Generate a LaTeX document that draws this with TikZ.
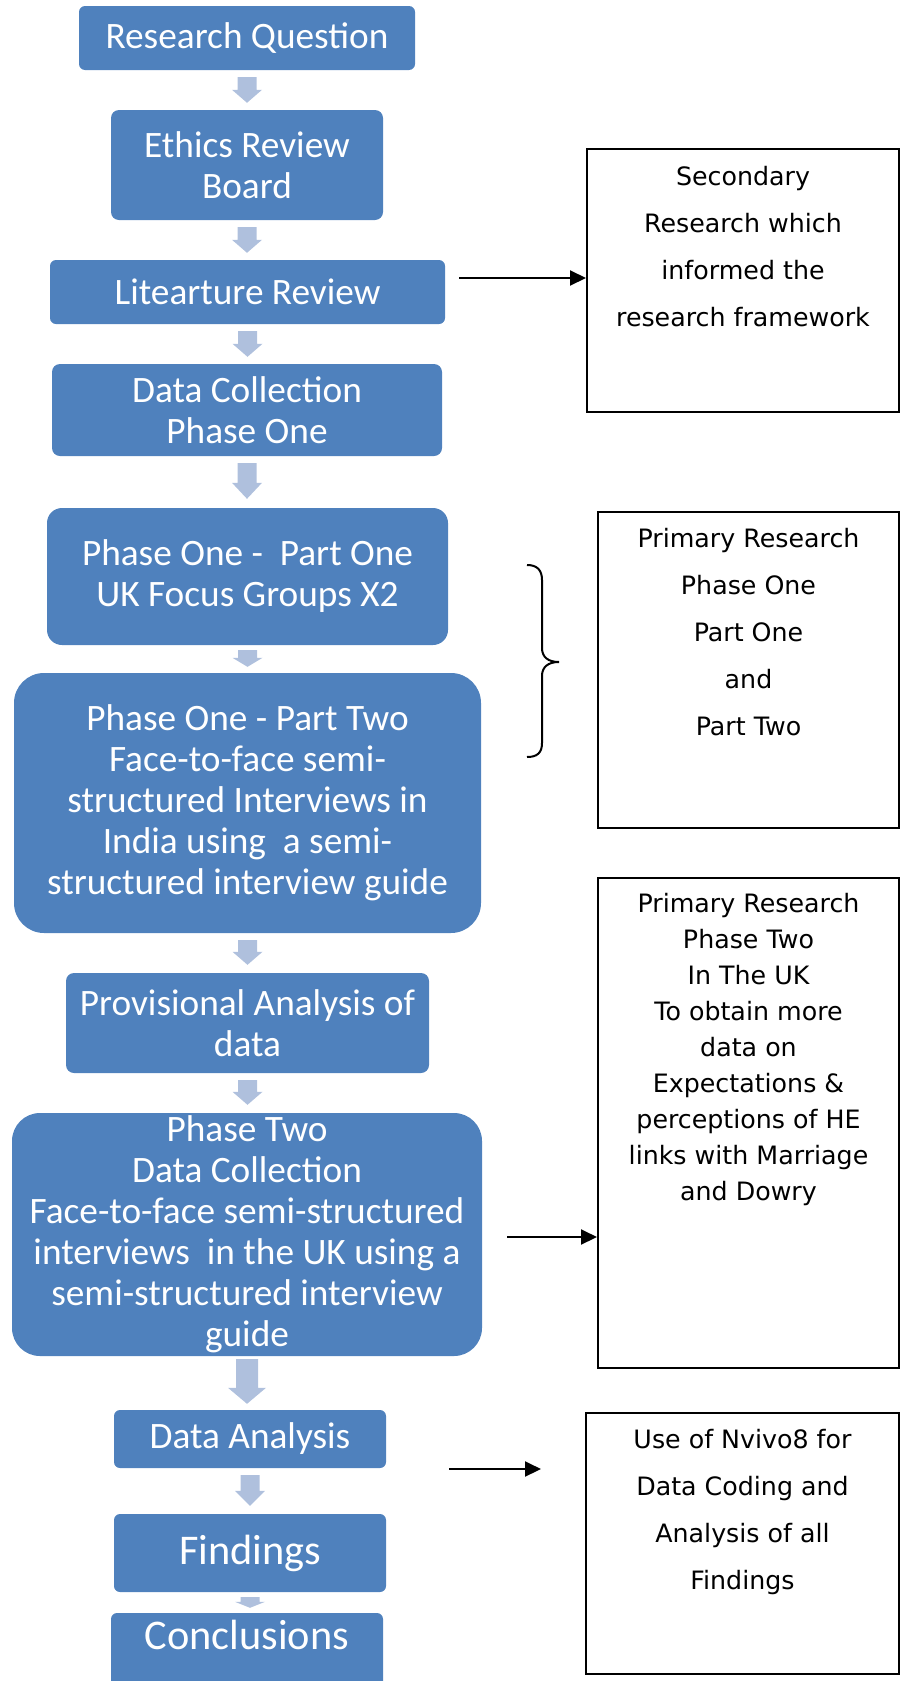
\documentclass[tikz,border=0pt]{standalone}
\usepackage{fontspec}
\setmainfont{Carlito}
\newfontfamily\rfont{DejaVu Sans}
\usetikzlibrary{calc,arrows.meta}
\definecolor{boxblue}{HTML}{4F81BD}
\definecolor{arrblue}{HTML}{AFC0DD}
\tikzset{
  bbox/.style={fill=boxblue, text=white, align=center, inner sep=0pt, rounded corners=6pt,
    font=\fontsize{37.3}{41}\selectfont},
  frame/.style={draw=black, line width=2pt, inner sep=0pt},
  rtext/.style={align=center, inner sep=0pt, anchor=north, font=\rfont\fontsize{25.3}{47}\selectfont},
  link/.style={draw=black, line width=2pt, -{Triangle[length=16pt,width=15pt]}},
}
\newcommand\blockarr[7]{%
  \fill[arrblue] let \p1=($(#1.south)+(0,#3)$), \p2=($(#2.north)+(0,-#4)$) in
   (\x1-#5pt,\y1) -- (\x1+#5pt,\y1) -- (\x1+#5pt,\y2+#7pt) -- (\x1+#6pt,\y2+#7pt)
   -- (\x1,\y2) -- (\x1-#6pt,\y2+#7pt) -- (\x1-#5pt,\y2+#7pt) -- cycle;}
\begin{document}
\begin{tikzpicture}[x=1pt,y=-1pt]
\useasboundingbox (0,0) rectangle (901,1681);
\clip (0,0) rectangle (901,1681);
% flow boxes
\node[bbox, minimum width=336pt, minimum height=64pt] (rq) at (247,38) {Research Question};
\node[bbox, minimum width=272pt, minimum height=110pt, rounded corners=8pt] (eth) at (247,165) {Ethics Review\\Board};
\node[bbox, minimum width=395pt, minimum height=64pt] (lit) at (247.5,292) {Litearture Review};
\node[bbox, minimum width=390pt, minimum height=92pt, rounded corners=8pt] (dc) at (247,410) {Data Collection\\Phase One};
\node[bbox, minimum width=401pt, minimum height=137pt, rounded corners=15pt] (p1) at (247.5,576.5) {Phase One - \ Part One\\UK Focus Groups X2};
\node[bbox, minimum width=467pt, minimum height=260pt, rounded corners=30pt] (p2) at (247.5,803) {Phase One - Part Two\\Face-to-face semi-\\structured Interviews in\\India using \ a semi-\\structured interview guide};
\node[bbox, minimum width=363pt, minimum height=100pt, rounded corners=8pt] (prov) at (247.5,1023) {Provisional Analysis of\\data};
\node[bbox, minimum width=470pt, minimum height=243pt, rounded corners=28pt] (ph2) at (247,1234.5) {Phase Two\\Data Collection\\Face-to-face semi-structured\\interviews \ in the UK using a\\semi-structured interview\\guide};
\node[bbox, minimum width=272pt, minimum height=58pt] (da) at (250,1439) {Data Analysis};
\node[bbox, minimum width=272pt, minimum height=78pt, font=\fontsize{42.3}{46}\selectfont] (fi) at (250,1553) {Findings};
\node[bbox, minimum width=272pt, minimum height=87pt, font=\fontsize{42.3}{46}\selectfont, text height=27pt, text depth=42pt] (co) at (247,1656.5) {Conclusions};
% block arrows
\blockarr{rq}{eth}{7}{7}{9.5}{15}{13}
\blockarr{eth}{lit}{7}{7}{9.5}{15}{13}
\blockarr{lit}{dc}{7}{7}{9.5}{15}{13}
\blockarr{dc}{p1}{7}{9}{9.5}{15}{16}
\blockarr{p1}{p2}{5}{6}{9.5}{15}{9}
\blockarr{p2}{prov}{7}{8}{9.5}{15}{13}
\blockarr{prov}{ph2}{7}{8}{9.5}{15}{13}
\blockarr{ph2}{da}{3}{6}{11}{19}{16}
\blockarr{da}{fi}{7}{8}{9.5}{15}{15}
\blockarr{fi}{co}{5}{5}{9.5}{15}{6}
% right-hand boxes
\node[frame, minimum width=312pt, minimum height=263pt] (sec) at (743,280.5) {};
\node[rtext] (sect) at (743,166) {Secondary\\Research which\\informed the\\research framework};
\node[frame, minimum width=301pt, minimum height=316pt] (pr1) at (748.5,670) {};
\node[rtext] (pr1t) at (748.5,528) {Primary Research\\Phase One\\Part One\\and\\Part Two};
\node[frame, minimum width=301pt, minimum height=490pt] (pr2) at (748.5,1122.5) {};
\node[rtext, font=\rfont\fontsize{25.3}{36}\selectfont] (pr2t) at (748.5,893) {Primary Research\\Phase Two\\In The UK\\To obtain more\\data on\\Expectations \&\\perceptions of HE\\links with Marriage\\and Dowry};
\node[frame, minimum width=313pt, minimum height=261pt] (nv) at (742.5,1543) {};
\node[rtext] (nvt) at (742.5,1429) {Use of Nvivo8 for\\Data Coding and\\Analysis of all\\Findings};
% connectors
\coordinate (s1) at (459,278);
\draw[link] (s1) -- (s1 -| sec.west);
\coordinate (s2) at (507,1237);
\draw[link] (s2) -- (s2 -| pr2.west);
\coordinate (s3) at (449,1469);
\coordinate (e3) at (541,1469);
\draw[link] (s3) -- (e3);
% brace
\draw[line width=2pt] (527,565) .. controls (537,565) and (542,570) .. (542,580) -- (542,648)
  .. controls (542,657) and (548,662) .. (559,662) .. controls (548,662) and (542,667) .. (542,676)
  -- (542,743) .. controls (542,753) and (537,757) .. (527,757);
\end{tikzpicture}
\end{document}
